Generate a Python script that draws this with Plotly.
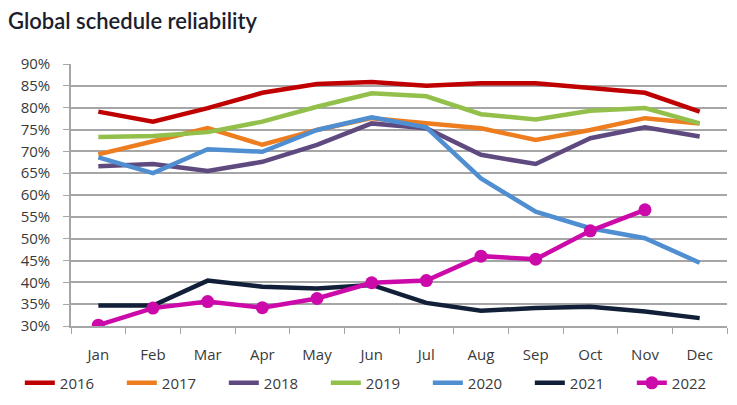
import plotly.graph_objects as go

# === Global schedule reliability (%) by month ===
months = ["Jan", "Feb", "Mar", "Apr", "May", "Jun", "Jul", "Aug", "Sep", "Oct", "Nov", "Dec"]

rel_2016 = [79.1, 76.8, 79.9, 83.4, 85.4, 85.9, 85.0, 85.6, 85.6, 84.4, 83.4, 79.1]
rel_2017 = [69.3, 72.2, 75.3, 71.5, 74.9, 77.6, 76.4, 75.3, 72.6, 74.9, 77.6, 76.4]
rel_2018 = [66.6, 67.1, 65.5, 67.6, 71.5, 76.4, 75.3, 69.2, 67.1, 73.0, 75.5, 73.4]
rel_2019 = [73.3, 73.5, 74.4, 76.8, 80.2, 83.3, 82.6, 78.5, 77.3, 79.3, 79.9, 76.4]
rel_2020 = [68.6, 65.0, 70.5, 69.9, 74.9, 77.8, 75.5, 63.8, 56.2, 52.4, 50.1, 44.5]
rel_2021 = [34.7, 34.7, 40.4, 39.0, 38.6, 39.4, 35.3, 33.5, 34.1, 34.4, 33.3, 31.8]
rel_2022 = [30.2, 34.1, 35.6, 34.2, 36.3, 39.9, 40.4, 46.0, 45.3, 51.8, 56.6, None]

y_ticks = [30, 35, 40, 45, 50, 55, 60, 65, 70, 75, 80, 85, 90]

series = [
    ("2016", rel_2016, "#c00000"),
    ("2017", rel_2017, "#ed7d1f"),
    ("2018", rel_2018, "#5f4a80"),
    ("2019", rel_2019, "#92c04a"),
    ("2020", rel_2020, "#4f8ed0"),
    ("2021", rel_2021, "#121f38"),
]

fig = go.Figure()

for name, vals, color in series:
    fig.add_trace(go.Scatter(
        x=months, y=vals, name=name, mode="lines",
        line=dict(color=color, width=4.5),
    ))

fig.add_trace(go.Scatter(
    x=months, y=rel_2022, name="2022", mode="lines+markers",
    line=dict(color="#cc0aaa", width=4.5),
    marker=dict(size=13, color="#cc0aaa"),
))

axis_font = dict(family="Open Sans, sans-serif", size=15, color="#3a3a3a")

# note: the page body has an 8px margin, so positions are offset by -8px
fig.update_layout(
    width=737, height=405,
    margin=dict(l=60, r=18, t=56, b=87),
    paper_bgcolor="white", plot_bgcolor="white",
    title=dict(
        text="Global schedule reliability",
        x=0.0, xanchor="left", y=0.966, yanchor="middle",
        font=dict(family="Lato, Noto Sans, sans-serif", size=22, color="#1c1e2c", weight=600),
    ),
    showlegend=True,
    legend=dict(
        orientation="h", x=-0.078, xanchor="left",
        y=-0.218, yanchor="middle", bgcolor="rgba(0,0,0,0)",
        font=axis_font, entrywidth=57, entrywidthmode="pixels", tracegroupgap=0,
    ),
    xaxis=dict(
        tickfont=axis_font, showgrid=False, showline=True, linecolor="#a6a6a6",
        linewidth=1.5, ticks="outside", tickson="boundaries", ticklen=6,
        tickcolor="#a6a6a6", range=[-0.5, 11.5], ticklabelstandoff=14,
    ),
    yaxis=dict(
        range=[30, 90], tickvals=y_ticks,
        ticktext=[f"{v}%" for v in y_ticks],
        tickfont=axis_font, showgrid=True, gridcolor="#a6a6a6", gridwidth=1.5,
        showline=True, linecolor="#a6a6a6", linewidth=1.5,
        ticks="outside", ticklen=6, tickcolor="#a6a6a6", zeroline=False,
        ticklabelstandoff=10,
    ),
)

fig.write_html("out.html")
